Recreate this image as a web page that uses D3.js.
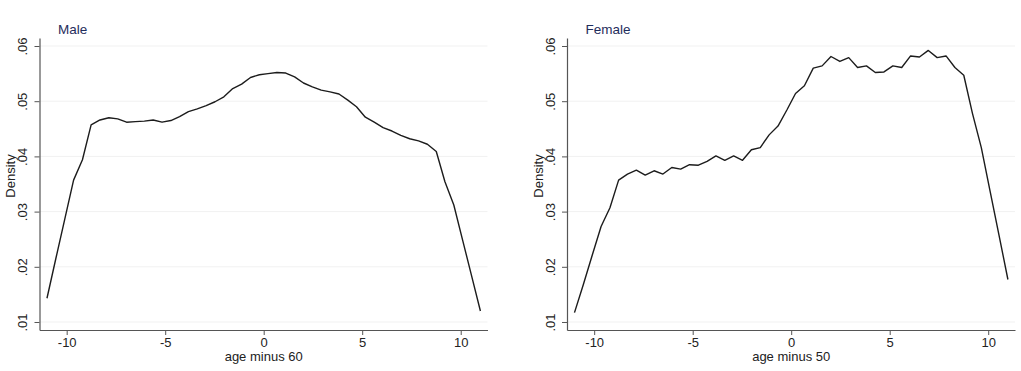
<!DOCTYPE html>
<html lang="en">
<head>
<meta charset="utf-8">
<title>kdensity by sex</title>
<script src="https://d3js.org/d3.v7.min.js"></script>
<style>
body { margin: 0; background: #fff; }
text { font-family: "Liberation Sans", Arial, sans-serif; }
</style>
</head>
<body>
<script type="text/javascript">
var w = 1021;
var h = 371;

// evaluation points of the density (50 points over the range)
var ageX = [-11.00, -10.55, -10.10, -9.65, -9.20, -8.76, -8.31, -7.86, -7.41, -6.96,
            -6.51, -6.06, -5.61, -5.16, -4.71, -4.27, -3.82, -3.37, -2.92, -2.47,
            -2.02, -1.57, -1.12, -0.67, -0.22, 0.22, 0.67, 1.12, 1.57, 2.02,
            2.47, 2.92, 3.37, 3.82, 4.27, 4.71, 5.16, 5.61, 6.06, 6.51,
            6.96, 7.41, 7.86, 8.31, 8.76, 9.20, 9.65, 10.10, 10.55, 11.00];

var maleDensity = [.0143, .0215, .0286, .0357, .0394, .0457, .0466, .0470, .0468, .0462,
                   .0463, .0464, .0466, .0462, .0465, .0472, .0481, .0486, .0492, .0499,
                   .0508, .0523, .0531, .0543, .0548, .0550, .0552, .0551, .0544, .0533,
                   .0526, .0520, .0517, .0513, .0502, .0490, .0471, .0462, .0452, .0446,
                   .0438, .0432, .0428, .0422, .0409, .0354, .0312, .0248, .0184, .0120];

var femaleDensity = [.0117, .0168, .0221, .0273, .0307, .0357, .0368, .0375, .0366, .0374,
                     .0368, .0380, .0377, .0385, .0384, .0391, .0401, .0393, .0401, .0393,
                     .0412, .0416, .0439, .0455, .0484, .0514, .0528, .0560, .0564, .0581,
                     .0572, .0579, .0561, .0564, .0552, .0553, .0564, .0561, .0582, .0580,
                     .0592, .0579, .0582, .0561, .0547, .0478, .0416, .0336, .0257, .0177];

var xTicks = [-10, -5, 0, 5, 10];
var yTicks = [.01, .02, .03, .04, .05, .06];

var panels = [
  { title: "Male", xLabel: "age minus 60", values: maleDensity, left: 39.5 },
  { title: "Female", xLabel: "age minus 50", values: femaleDensity, left: 567 }
];

var svg = d3.select("body")
            .append("svg")
            .attr("width", w)
            .attr("height", h);

var plotTop = 38, plotBottom = 330, pw = 448;

var yScale = d3.scaleLinear()
               .domain([.00855, .06145])
               .range([plotBottom - plotTop, 0]);
var xScale = d3.scaleLinear()
               .domain([-11.38, 11.36])
               .range([0, pw]);

panels.forEach(function(p) {
  var g = svg.append("g")
             .attr("transform", "translate(" + p.left + "," + plotTop + ")");

  // faint grid
  g.selectAll("line.grid")
   .data(yTicks)
   .enter()
   .append("line")
   .attr("class", "grid")
   .attr("x1", 0)
   .attr("x2", pw)
   .attr("y1", function(d) { return yScale(d); })
   .attr("y2", function(d) { return yScale(d); })
   .attr("stroke", "#f1f1f1")
   .attr("stroke-width", 1);

  var yAxis = g.append("g")
               .call(d3.axisLeft(yScale)
                       .tickValues(yTicks)
                       .tickSize(5)
                       .tickSizeOuter(0)
                       .tickFormat(function(d) { return d.toFixed(2).replace(/^0/, ""); }));
  yAxis.selectAll("text")
       .attr("x", 0)
       .attr("dy", null)
       .attr("y", 0)
       .attr("text-anchor", "middle")
       .attr("dominant-baseline", "central")
       .attr("transform", "translate(-17,0) rotate(-90)");

  var xAxis = g.append("g")
               .attr("transform", "translate(0," + (plotBottom - plotTop) + ")")
               .call(d3.axisBottom(xScale)
                       .tickValues(xTicks)
                       .tickSize(5)
                       .tickSizeOuter(0)
                       .tickFormat(function(d) { return String(d); }));
  xAxis.selectAll("text").attr("y", 8);

  g.selectAll(".domain").attr("stroke", "#555").attr("stroke-width", 1.2);
  g.selectAll(".tick line").attr("stroke", "#555");
  g.selectAll(".tick text")
   .attr("fill", "#222")
   .attr("font-size", "13px")
   .attr("font-family", "Liberation Sans, Arial, sans-serif");

  var line = d3.line()
               .x(function(d, i) { return xScale(ageX[i]); })
               .y(function(d) { return yScale(d); });

  g.append("path")
   .datum(p.values)
   .attr("d", line)
   .attr("fill", "none")
   .attr("stroke", "#1c1c1c")
   .attr("stroke-width", 1.4)
   .attr("stroke-linejoin", "round");

  // titles
  g.append("text")
   .text(p.title)
   .attr("x", 18.5)
   .attr("y", 33.5 - plotTop)
   .attr("font-size", "13.5px")
   .attr("fill", "#1f2d5c");

  g.append("text")
   .text(p.xLabel)
   .attr("x", xScale(0))
   .attr("y", 361 - plotTop)
   .attr("text-anchor", "middle")
   .attr("font-size", "13px")
   .attr("fill", "#222");

  g.append("text")
   .text("Density")
   .attr("transform", "translate(-29," + (176 - plotTop) + ") rotate(-90)")
   .attr("text-anchor", "middle")
   .attr("dominant-baseline", "central")
   .attr("font-size", "13px")
   .attr("fill", "#222");
});
</script>
</body>
</html>
